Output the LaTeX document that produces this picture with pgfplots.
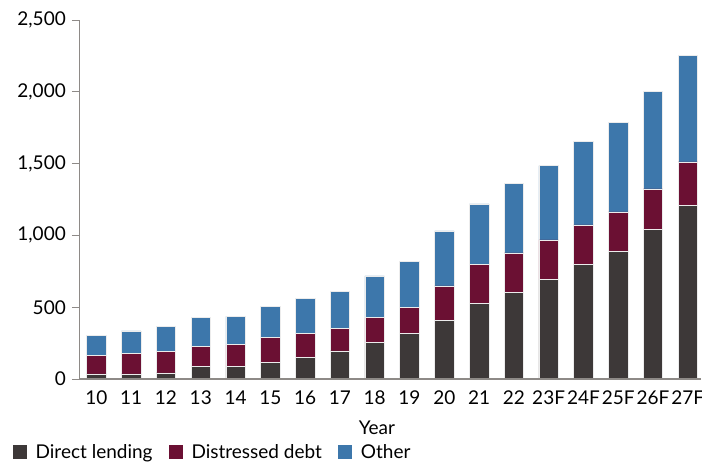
\documentclass[border=0pt]{standalone}
\usepackage{fontspec}
\setmainfont{Lato}
\usepackage{pgfplots}
\usepackage{pgfplotstable}
\pgfplotsset{compat=1.18}
\definecolor{cDirect}{HTML}{3D3838}
\definecolor{cDist}{HTML}{6B1033}
\definecolor{cOther}{HTML}{3D77AB}
\definecolor{axgray}{HTML}{8E8A87}

\pgfplotstableread{
x direct distressed other
0 35 130 140
1 35 141 160
2 42 150 172
3 90 137 200
4 90 149 197
5 116 174 218
6 153 165 243
7 195 157 260
8 257 170 292
9 320 179 320
10 410 239 383
11 526 272 422
12 605 274 482
13 696 273 517
14 800 274 579
15 890 274 622
16 1044 280 680
17 1208 304 740
}\datatable

\begin{document}
\begin{tikzpicture}
\useasboundingbox (-79bp,-84bp) rectangle (623bp,379bp);
\begin{axis}[
  at={(0,0)}, anchor=south west,
  scale only axis, width=622bp, height=359bp,
  ybar stacked, bar width=19.5bp,
  xmin=-0.5, xmax=17.38, ymin=0, ymax=2500,
  xtick=data,
  xticklabels={10,11,12,13,14,15,16,17,18,19,20,21,22,23F,24F,25F,26F,27F},
  ytick={0,500,1000,1500,2000,2500},
  axis on top,
  axis lines=left,
  axis line style={-, draw=axgray},
  x axis line style={line width=1.6bp},
  y axis line style={line width=0.9bp},
  tick align=outside,
  major tick length=7bp,
  ytick style={draw=axgray, line width=0.9bp},
  xtick style={draw=none},
  font=\fontsize{19bp}{22bp}\selectfont,
  /pgf/number format/assume math mode=true,
  /pgf/number format/1000 sep={,},
  yticklabel style={anchor=east, inner sep=0pt, xshift=-6bp},
  xticklabel style={anchor=base, inner sep=0pt, yshift=-18bp},
  xlabel={Year},
  xlabel style={at={(axis description cs:0.479,0)}, anchor=base, yshift=-55bp, inner sep=0pt},
  legend columns=-1,
  legend style={at={(axis description cs:-0.107,-0.203)}, anchor=west, draw=none, fill=none,
    font=\fontsize{19bp}{22bp}\selectfont, inner sep=0pt,
    /tikz/every odd column/.append style={column sep=7bp},
    /tikz/every even column/.append style={column sep=14bp}},
  legend image code/.code={\fill[#1,draw=none] (0bp,-7bp) rectangle (14bp,7bp);},
]
\addplot[fill=cDirect, draw=white!85!gray, line width=0.5bp] table[x=x,y=direct]{\datatable};
\addplot[fill=cDist, draw=white!85!gray, line width=0.5bp] table[x=x,y=distressed]{\datatable};
\addplot[fill=cOther, draw=white!85!gray, line width=0.5bp] table[x=x,y=other]{\datatable};
\legend{Direct lending, Distressed debt, Other}
\end{axis}
\end{tikzpicture}
\end{document}
